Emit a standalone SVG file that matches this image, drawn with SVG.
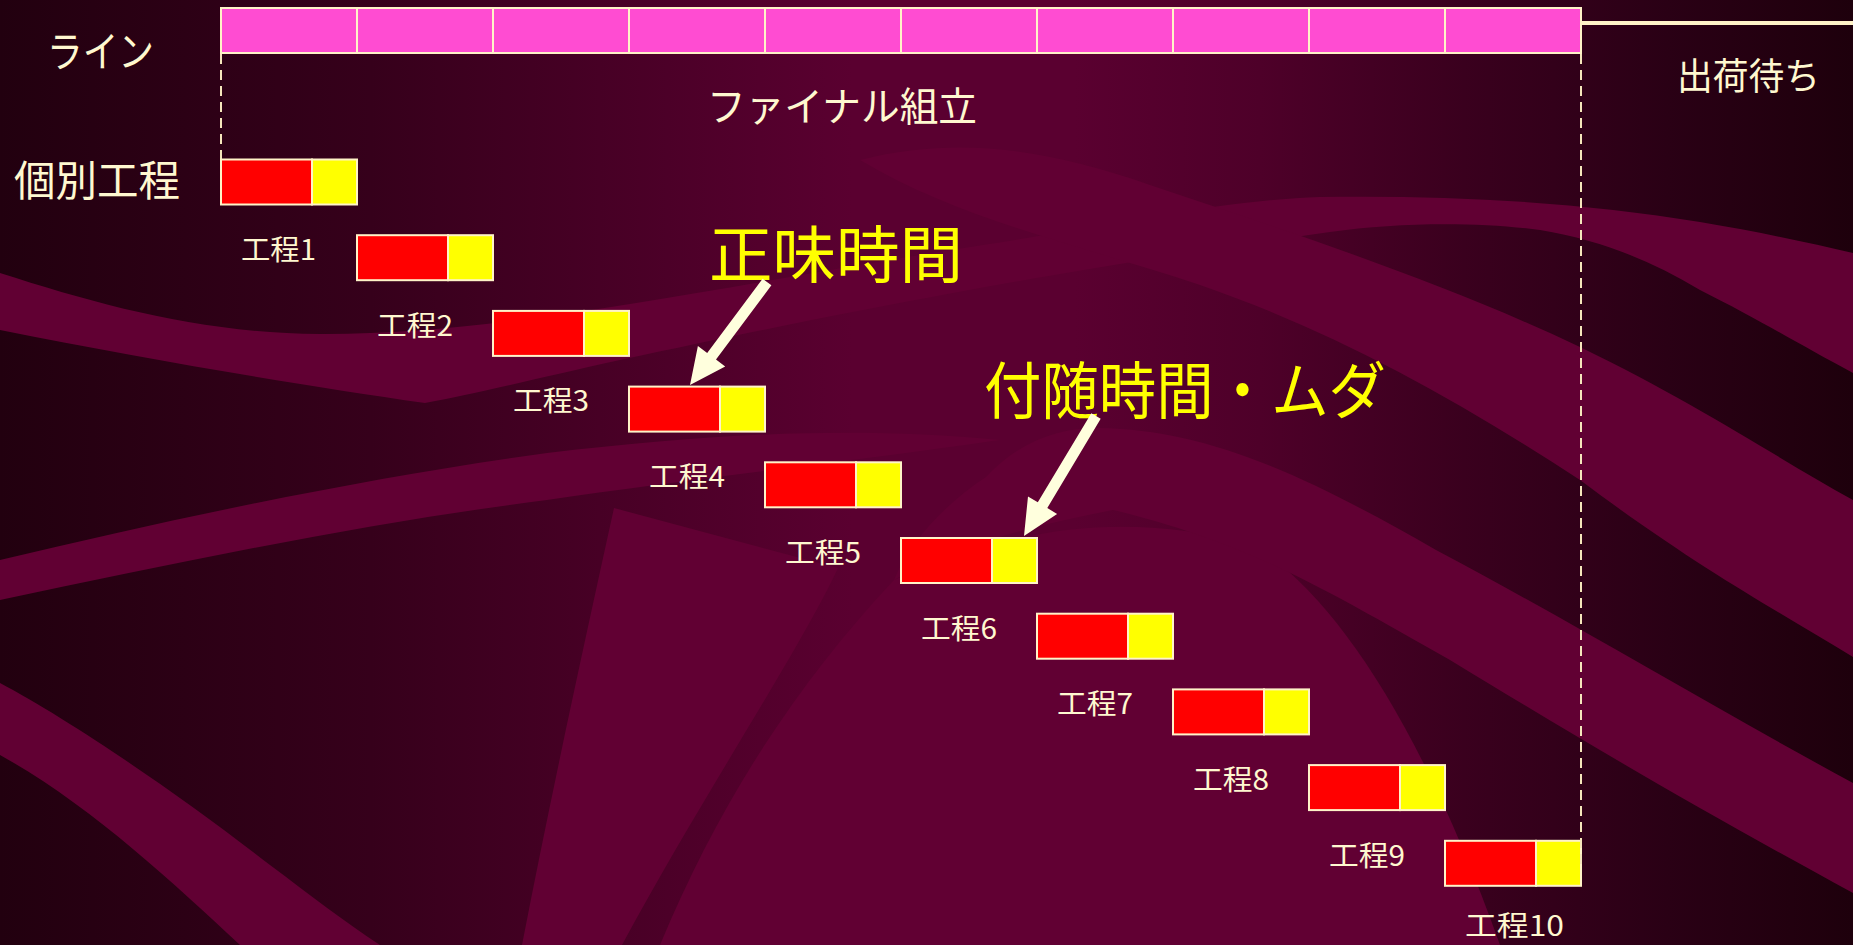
<svg xmlns="http://www.w3.org/2000/svg" width="1853" height="945" viewBox="0 0 1853 945">
  <defs>
    <linearGradient id="bgGrad" x1="0" y1="0" x2="1" y2="0">
      <stop offset="0" stop-color="#22000f"/>
      <stop offset="0.2" stop-color="#36001b"/>
      <stop offset="0.36" stop-color="#4c0028"/>
      <stop offset="0.46" stop-color="#5a0030"/>
      <stop offset="0.58" stop-color="#5a0030"/>
      <stop offset="0.68" stop-color="#4e0029"/>
      <stop offset="0.79" stop-color="#3a001e"/>
      <stop offset="0.9" stop-color="#2a0015"/>
      <stop offset="1" stop-color="#1e000c"/>
    </linearGradient>
    <style>
      .band { fill: #610033; }
      .seg { fill: #ff4cd2; stroke: #fff3c8; stroke-width: 2; }
      .red { fill: #ff0000; stroke: #fff3c8; stroke-width: 2; }
      .yel { fill: #ffff00; stroke: #fff3c8; stroke-width: 2; }
      .lbl { fill: #fff8d0; font-family: "Noto Sans CJK JP", "Noto Sans", sans-serif; }
      .big { fill: #ffff00; font-family: "Noto Sans CJK JP", "Noto Sans", sans-serif; }
      .step { font-size: 28px; }
      .dash { stroke: #f5e6bc; stroke-width: 2; stroke-dasharray: 10 6; fill: none; }
      .arrow { fill: #ffffdd; }
    </style>
  </defs>

  <g id="background">
    <rect x="0" y="0" width="1853" height="945" fill="url(#bgGrad)"/>
    <path class="band" d="M0,273 C100,305 200,333 320,334 C500,335 700,290 950,250 C1100,228 1220,200 1320,197 C1450,195 1580,202 1700,222 C1760,232 1810,243 1853,253 L1853,373 C1800,345 1760,320 1700,290 C1650,260 1600,240 1540,230 C1480,222 1400,222 1330,232 C1200,250 1050,275 953,293 C850,312 760,330 620,360 C530,380 470,395 425,403 C300,385 150,360 0,330 Z"/>
    <path class="band" d="M0,560 C180,517 365,478 547,453 C700,435 850,425 1000,440 C900,455 700,478 547,500 C365,523 180,562 0,600 Z"/>
    <path class="band" d="M0,683 C70,720 180,795 270,865 C310,895 345,922 380,945 L240,945 C170,880 90,805 0,755 Z"/>
    <path class="band" d="M614,508 L838,568 C800,650 700,800 622,945 L522,945 C550,800 585,640 614,508 Z"/>
    <path class="band" d="M894,580 C1011,530 1113,510 1250,543 C1330,590 1420,720 1500,945 L660,945 C720,800 800,680 894,580 Z"/>
    <path class="band" d="M860,160 C960,135 1050,150 1150,185 C1300,235 1450,285 1580,347 C1700,405 1780,460 1853,500 L1853,657 C1780,612 1700,570 1580,480 C1450,395 1330,330 1200,285 C1080,245 960,220 860,160 Z"/>
    <path class="band" d="M986,477 C1020,440 1062,427 1100,428 C1200,430 1292,467 1436,550 C1581,627 1700,700 1853,783 L1853,893 C1700,810 1581,740 1450,660 C1326,590 1250,543 1113,510 C1011,530 950,550 894,580 C910,540 950,500 986,477 Z"/>
  </g>

  <g id="line-bar">
    <rect class="seg" x="221" y="8" width="136" height="45"/>
    <rect class="seg" x="357" y="8" width="136" height="45"/>
    <rect class="seg" x="493" y="8" width="136" height="45"/>
    <rect class="seg" x="629" y="8" width="136" height="45"/>
    <rect class="seg" x="765" y="8" width="136" height="45"/>
    <rect class="seg" x="901" y="8" width="136" height="45"/>
    <rect class="seg" x="1037" y="8" width="136" height="45"/>
    <rect class="seg" x="1173" y="8" width="136" height="45"/>
    <rect class="seg" x="1309" y="8" width="136" height="45"/>
    <rect class="seg" x="1445" y="8" width="136" height="45"/>
    <line x1="1581" y1="23" x2="1853" y2="23" stroke="#fff3c8" stroke-width="4"/>
  </g>

  <g id="titles">
    <text class="lbl" x="47" y="67" font-size="42" textLength="107" lengthAdjust="spacingAndGlyphs">ライン</text>
    <text class="lbl" x="14" y="196" font-size="42" textLength="166" lengthAdjust="spacingAndGlyphs">個別工程</text>
    <text class="lbl" x="707" y="121" font-size="40" textLength="270" lengthAdjust="spacingAndGlyphs">ファイナル組立</text>
    <text class="lbl" x="1677" y="90" font-size="37" textLength="143" lengthAdjust="spacingAndGlyphs">出荷待ち</text>
    <text class="big" x="709" y="278" font-size="62" textLength="254" lengthAdjust="spacingAndGlyphs">正味時間</text>
    <text class="big" x="984" y="414" font-size="62" textLength="402" lengthAdjust="spacingAndGlyphs">付随時間・ムダ</text>
  </g>

  <g id="connectors">
    <line class="dash" x1="221" y1="54" x2="221" y2="159"/>
    <polygon class="arrow" points="762.6,278.7 771.4,285.3 716.0,359.5 725.2,366.4 690,385 697.9,346.0 707.2,352.9"/>
    <polygon class="arrow" points="1091.3,413.2 1100.7,418.8 1047.3,508.0 1057.1,513.9 1024,536 1028.0,496.4 1037.8,502.3"/>
  </g>

  <g id="node-0"><rect class="red" x="221" y="159.5" width="91" height="45"/><rect class="yel" x="312" y="159.5" width="45" height="45"/></g>
  <g id="node-1"><rect class="red" x="357" y="235.2" width="91" height="45"/><rect class="yel" x="448" y="235.2" width="45" height="45"/></g>
  <g id="node-2"><rect class="red" x="493" y="310.9" width="91" height="45"/><rect class="yel" x="584" y="310.9" width="45" height="45"/></g>
  <g id="node-3"><rect class="red" x="629" y="386.6" width="91" height="45"/><rect class="yel" x="720" y="386.6" width="45" height="45"/></g>
  <g id="node-4"><rect class="red" x="765" y="462.3" width="91" height="45"/><rect class="yel" x="856" y="462.3" width="45" height="45"/></g>
  <g id="node-5"><rect class="red" x="901" y="538" width="91" height="45"/><rect class="yel" x="992" y="538" width="45" height="45"/></g>
  <g id="node-6"><rect class="red" x="1037" y="613.7" width="91" height="45"/><rect class="yel" x="1128" y="613.7" width="45" height="45"/></g>
  <g id="node-7"><rect class="red" x="1173" y="689.4" width="91" height="45"/><rect class="yel" x="1264" y="689.4" width="45" height="45"/></g>
  <g id="node-8"><rect class="red" x="1309" y="765.1" width="91" height="45"/><rect class="yel" x="1400" y="765.1" width="45" height="45"/></g>
  <g id="node-9"><rect class="red" x="1445" y="840.8" width="91" height="45"/><rect class="yel" x="1536" y="840.8" width="45" height="45"/></g>

  <g id="right-limit">
    <line class="dash" x1="1581" y1="54" x2="1581" y2="864"/>
  </g>

  <g id="step-labels">
    <text class="lbl step" x="241" y="260" textLength="75" lengthAdjust="spacingAndGlyphs">工程1</text>
    <text class="lbl step" x="377" y="335.7" textLength="76" lengthAdjust="spacingAndGlyphs">工程2</text>
    <text class="lbl step" x="513" y="411.4" textLength="76" lengthAdjust="spacingAndGlyphs">工程3</text>
    <text class="lbl step" x="649" y="487.1" textLength="76" lengthAdjust="spacingAndGlyphs">工程4</text>
    <text class="lbl step" x="785" y="562.8" textLength="76" lengthAdjust="spacingAndGlyphs">工程5</text>
    <text class="lbl step" x="921" y="638.5" textLength="76" lengthAdjust="spacingAndGlyphs">工程6</text>
    <text class="lbl step" x="1057" y="714.2" textLength="76" lengthAdjust="spacingAndGlyphs">工程7</text>
    <text class="lbl step" x="1193" y="789.9" textLength="76" lengthAdjust="spacingAndGlyphs">工程8</text>
    <text class="lbl step" x="1329" y="865.6" textLength="76" lengthAdjust="spacingAndGlyphs">工程9</text>
    <text class="lbl step" x="1465" y="936" textLength="99" lengthAdjust="spacingAndGlyphs">工程10</text>
  </g>
</svg>
